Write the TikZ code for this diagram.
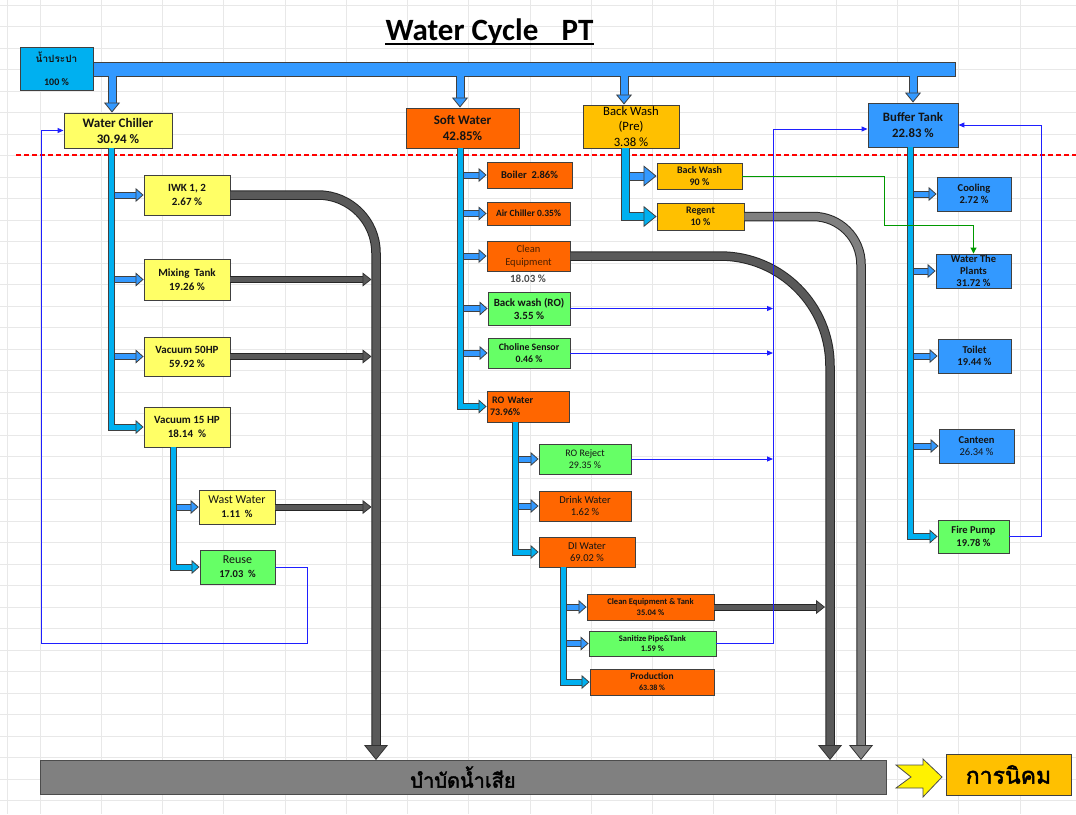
\documentclass[tikz,border=0pt]{standalone}
\usepackage{fontspec}
\setmainfont{Carlito}
\newfontfamily\thai[Script=Thai]{Loma}
\newfontfamily\thaiheavy[Script=Thai, FakeBold=2]{Loma}
\usetikzlibrary{arrows.meta}

\definecolor{tapcyan}{HTML}{00B0F0}
\definecolor{pipeblue}{HTML}{3399FF}
\definecolor{boxyellow}{HTML}{FFFF66}
\definecolor{boxorange}{HTML}{FF6600}
\definecolor{boxgold}{HTML}{FFC000}
\definecolor{boxgreen}{HTML}{66FF66}
\definecolor{wastedark}{HTML}{595959}
\definecolor{wastelight}{HTML}{808080}
\definecolor{retblue}{HTML}{1F1FFF}
\definecolor{gridgray}{HTML}{E8E8E8}

\tikzset{
  box/.style={draw=black!75, line width=0.9pt, inner sep=0pt, align=center, text=black!92},
  feed/.style={preaction={draw=black!75, line width=7pt, -, shorten >=6pt},
    draw=#1, line width=5pt, -{Triangle[length=8pt, width=14pt, fill=#1, color=black!75, line width=0.8pt]}},
  widefeed/.style={preaction={draw=black!75, line width=9pt, -, shorten >=10pt},
    draw=#1, line width=7pt, -{Triangle[length=13pt, width=21pt, fill=#1, color=black!75, line width=0.8pt]}},
  drop/.style={preaction={draw=black!75, line width=9pt, -, shorten >=8pt},
    draw=pipeblue, line width=7pt, -{Triangle[length=10pt, width=16pt, fill=pipeblue, color=black!75, line width=0.8pt]}},
  waste/.style={preaction={draw=black!85, line width=9.5pt, -, shorten >=13pt},
    draw=#1, line width=7.5pt, -{Triangle[length=15pt, width=24pt, fill=#1, color=black!80, line width=0.8pt]}},
  wastethin/.style={preaction={draw=black!85, line width=7pt, -, shorten >=7pt},
    draw=#1, line width=5pt, -{Triangle[length=9pt, width=14pt, fill=#1, color=black!80, line width=0.8pt]}},
  ret/.style={draw=retblue, line width=1pt, -{Triangle[length=6pt, width=5pt]}},
  plantline/.style={draw=green!60!black, line width=1pt, -{Triangle[length=6pt, width=6pt]}},
}

\begin{document}
\begin{tikzpicture}[x=1pt, y=-1pt]
  \useasboundingbox[fill=white] (0,0) rectangle (1076,814);

  % sheet grid
  \foreach \gx in {40,101.25,...,1030}
    \draw[gridgray, line width=0.6pt] (\gx,0) -- (\gx,814);
  \draw[gridgray, line width=0.6pt] (7,0) -- (7,814);
  \foreach \gy in {5,26.5,...,814}
    \draw[gridgray, line width=0.6pt] (0,\gy) -- (1076,\gy);

  % title
  \node[font=\bfseries\fontsize{31}{33}\selectfont, inner sep=0pt, anchor=base] (title) at (489.5,40) {Water Cycle\hspace{0.75em}PT};
  \draw[line width=1.8pt] ([yshift=-4pt]title.base west) -- ([yshift=-4pt]title.base east);

  % limit line
  \draw[red, line width=1.2pt, dash pattern=on 5pt off 3pt] (16,155) -- (1076,155);

  % supply bar
  \node[draw=black!75, line width=0.9pt, fill=pipeblue, minimum width=862, minimum height=14, inner sep=0pt] (main) at (524,69) {};
  \node[box, fill=tapcyan, minimum width=73, minimum height=43, font=\bfseries\fontsize{10}{11}\selectfont] (tap) at (56.5,68.5) {{\thai น้ำประปา}\\[12pt]100 \%};

  % first level
  \node[box, fill=boxyellow, minimum width=108, minimum height=35, font=\bfseries\fontsize{13}{16}\selectfont] (chiller) at (118,130.5) {Water Chiller\\30.94 \%};
  \node[box, fill=boxorange, minimum width=113, minimum height=40, font=\bfseries\fontsize{13}{16}\selectfont] (soft) at (462.5,128) {Soft Water\\42.85\%};
  \node[box, fill=boxgold, minimum width=96, minimum height=43, font=\fontsize{12.7}{15.5}\selectfont, text=black] (bwpre) at (631,126.5) {Back Wash\\(Pre)\\3.38 \%};
  \node[box, fill=pipeblue, minimum width=90, minimum height=44, font=\bfseries\fontsize{12.8}{16}\selectfont] (buffer) at (913,125) {Buffer Tank\\22.83 \%};

  \coordinate (tapA) at (112,76);
  \coordinate (tapC) at (624,76);
  \draw[drop] (tapA) -- (tapA |- chiller.north);
  \draw[drop] (main.south -| 460,0) -- (soft.north -| 460,0);
  \draw[drop] (tapC) -- (tapC |- bwpre.north);
  \draw[drop] (main.south -| buffer.north) -- (buffer.north);

  % water chiller users
  \node[box, fill=boxyellow, minimum width=86, minimum height=40, font=\bfseries\fontsize{11}{14}\selectfont] (iwk) at (187,195) {IWK 1, 2\\2.67 \%};
  \node[box, fill=boxyellow, minimum width=86, minimum height=41, font=\bfseries\fontsize{11}{14}\selectfont] (mix) at (187,279.5) {Mixing\ \ Tank\\19.26 \%};
  \node[box, fill=boxyellow, minimum width=86, minimum height=39, font=\bfseries\fontsize{11}{14}\selectfont] (vac50) at (187,356.5) {Vacuum 50HP\\59.92 \%};
  \node[box, fill=boxyellow, minimum width=86, minimum height=40, font=\bfseries\fontsize{11}{14}\selectfont] (vac15) at (187,427) {Vacuum 15 HP\\18.14\ \ \%};
  \node[box, fill=boxyellow, minimum width=76, minimum height=34, font=\fontsize{12}{14}\selectfont] (wast) at (237,507) {Wast Water\\{\bfseries\fontsize{10.5}{12}\selectfont 1.11\ \ \%}};
  \node[box, fill=boxgreen, minimum width=75, minimum height=34, font=\fontsize{12}{14}\selectfont] (reuse) at (237.5,567) {Reuse\\{\bfseries\fontsize{10.5}{12}\selectfont 17.03\ \ \%}};

  % soft water users
  \node[box, fill=boxorange, minimum width=85, minimum height=26, font=\bfseries\fontsize{10.5}{12}\selectfont] (boiler) at (529.5,175) {Boiler\ \ 2.86\%};
  \node[box, fill=boxorange, minimum width=83, minimum height=23, font=\bfseries\fontsize{9.5}{11}\selectfont] (airch) at (528.5,213.5) {Air Chiller 0.35\%};
  \node[box, fill=boxorange, minimum width=83, minimum height=30, font=\fontsize{10.5}{13.5}\selectfont, text=boxorange!30!black] (cleq) at (528.5,256) {Clean\\Equipment};
  \node[font=\bfseries\fontsize{11}{12}\selectfont, text=black!70, inner sep=0pt] (cleqpct) at (528,279) {18.03 \%};
  \node[box, fill=boxgreen, minimum width=82, minimum height=33, font=\bfseries\fontsize{11}{13}\selectfont] (bwro) at (529,308.5) {Back wash (RO)\\3.55 \%};
  \node[box, fill=boxgreen, minimum width=82, minimum height=30, font=\bfseries\fontsize{9.8}{12}\selectfont] (choline) at (529,353) {Choline Sensor\\0.46 \%};
  \node[box, fill=boxorange, minimum width=82, minimum height=31, text width=76, align=left, font=\bfseries\fontsize{10}{12}\selectfont] (row) at (528,406.5) {\hspace{2pt}RO Water\\73.96\%};

  % RO water users
  \node[box, fill=boxgreen, minimum width=92, minimum height=30, font=\fontsize{10}{12}\selectfont] (roreject) at (585,459) {RO Reject\\29.35 \%};
  \node[box, fill=boxorange, minimum width=92, minimum height=30, font=\fontsize{10.5}{12}\selectfont] (drink) at (585,506) {Drink Water\\1.62 \%};
  \node[box, fill=boxorange, minimum width=96, minimum height=30, font=\fontsize{10.5}{12}\selectfont] (di) at (587,552) {DI Water\\69.02 \%};

  % DI water users
  \node[box, fill=boxorange, minimum width=127, minimum height=26, font=\bfseries\fontsize{8.5}{10.5}\selectfont] (cleqt) at (650.5,607) {Clean Equipment \& Tank\\35.04 \%};
  \node[box, fill=boxgreen, minimum width=127, minimum height=25, font=\bfseries\fontsize{8.5}{10.5}\selectfont] (sanit) at (652.5,643.5) {Sanitize Pipe\&Tank\\1.59 \%};
  \node[box, fill=boxorange, minimum width=124, minimum height=26, font=\bfseries\fontsize{9.5}{11}\selectfont] (prod) at (652,682) {Production\\{\fontsize{8}{9}\selectfont 63.38 \%}};

  % back wash users
  \node[box, fill=boxgold, minimum width=85, minimum height=26, font=\bfseries\fontsize{10}{12}\selectfont] (bwash) at (699.5,176) {Back Wash\\90 \%};
  \node[box, fill=boxgold, minimum width=87, minimum height=27, font=\bfseries\fontsize{10}{12}\selectfont] (regent) at (700.5,216.5) {Regent\\10 \%};

  % buffer tank users
  \node[box, fill=pipeblue, minimum width=74, minimum height=34, font=\bfseries\fontsize{10.5}{12.5}\selectfont] (cooling) at (974,194) {Cooling\\2.72 \%};
  \node[box, fill=pipeblue, minimum width=75, minimum height=34, font=\bfseries\fontsize{10.5}{12.3}\selectfont] (plants) at (973.5,271) {Water The\\Plants\\31.72 \%};
  \node[box, fill=pipeblue, minimum width=73, minimum height=34, font=\bfseries\fontsize{10.5}{12.5}\selectfont] (toilet) at (974.5,356) {Toilet\\19.44 \%};
  \node[box, fill=pipeblue, minimum width=75, minimum height=34, font=\bfseries\fontsize{10.5}{12.5}\selectfont] (canteen) at (976.5,446) {Canteen\\{\mdseries 26.34 \%}};
  \node[box, fill=boxgreen, minimum width=71, minimum height=33, font=\bfseries\fontsize{10.5}{12.5}\selectfont] (fire) at (973.5,536.5) {Fire Pump\\19.78 \%};

  % treatment
  \node[draw=black!70, line width=1pt, fill=wastelight, minimum width=846, minimum height=34, inner sep=0pt, font=\thaiheavy\fontsize{20}{21}\selectfont] (drain) at (463,777) {บำบัดน้ำเสีย};
  \node[box, fill=boxgold, minimum width=125, minimum height=41, font=\thaiheavy\fontsize{23}{25}\selectfont, text=black] (estate) at (1008.5,774.5) {การนิคม};
  \draw[fill=yellow, draw=black!70, line width=0.8pt] (896,765) -- (923,765) -- (923,759) -- (942,777) -- (923,797) -- (923,788) -- (896,788) -- (911,777) -- cycle;

  % waste pipes
  \coordinate (dropA) at (376,760);
  \coordinate (dropB) at (830,760);
  \coordinate (dropC) at (861,760);
  \draw[waste=wastedark, rounded corners=58pt] (iwk.east) -| (dropA);
  \foreach \w in {mix,vac50,wast}
    \draw[wastethin=wastedark] (\w.east) -- ([xshift=-4.5pt]\w.east -| dropA);
  \draw[waste=wastedark, rounded corners=110pt] (cleq.east) -| (dropB);
  \draw[waste=wastelight, rounded corners=48pt] (regent.east) -| (dropC);
  \draw[wastethin=wastedark] (cleqt.east) -- ([xshift=-5pt]cleqt.east -| dropB);

  % feed pipes
  \coordinate (pchill) at (111,148);
  \coordinate (pvac) at (173,447);
  \coordinate (psoft) at (460,148);
  \coordinate (pro) at (515,422);
  \coordinate (pdi) at (563,567);
  \coordinate (pbw) at (625,148);
  \coordinate (pbuf) at (910,147);
  \foreach \b in {iwk,mix,vac50}
    \draw[feed=pipeblue] (pchill |- \b.west) -- (\b.west);
  \draw[feed=tapcyan] (pchill) |- (vac15.west);
  \draw[feed=pipeblue] (pvac |- wast.west) -- (wast.west);
  \draw[feed=tapcyan] (pvac) |- (reuse.west);
  \foreach \b in {boiler,airch,cleq,bwro,choline}
    \draw[feed=pipeblue] (psoft |- \b.west) -- (\b.west);
  \draw[feed=tapcyan] (psoft) |- (row.west);
  \foreach \b in {roreject,drink}
    \draw[feed=pipeblue] (pro |- \b.west) -- (\b.west);
  \draw[feed=tapcyan] (pro) |- (di.west);
  \foreach \b in {cleqt,sanit}
    \draw[feed=pipeblue] (pdi |- \b.west) -- (\b.west);
  \draw[feed=tapcyan] (pdi) |- (prod.west);
  \draw[widefeed=pipeblue] (pbw |- bwash.west) -- (bwash.west);
  \draw[widefeed=tapcyan] (pbw) |- (regent.west);
  \foreach \b in {cooling,plants,toilet,canteen}
    \draw[feed=pipeblue] (pbuf |- \b.west) -- (\b.west);
  \draw[feed=tapcyan] (pbuf) |- (fire.west);

  % return lines
  \coordinate (rtop) at (773,129);
  \draw[ret] (sanit.east) -| (rtop) -- (rtop -| buffer.west);
  \foreach \r in {bwro,choline,roreject}
    \draw[ret] (\r.east) -- (\r.east -| rtop);
  \draw[ret] (reuse.east) -- (307,567) |- (41,643) |- (chiller.west);
  \draw[ret] (fire.east) -| (1041,125) -- (buffer.east);
  \draw[plantline] (bwash.east) -| (884,225) -| (plants.north);
\end{tikzpicture}
\end{document}
